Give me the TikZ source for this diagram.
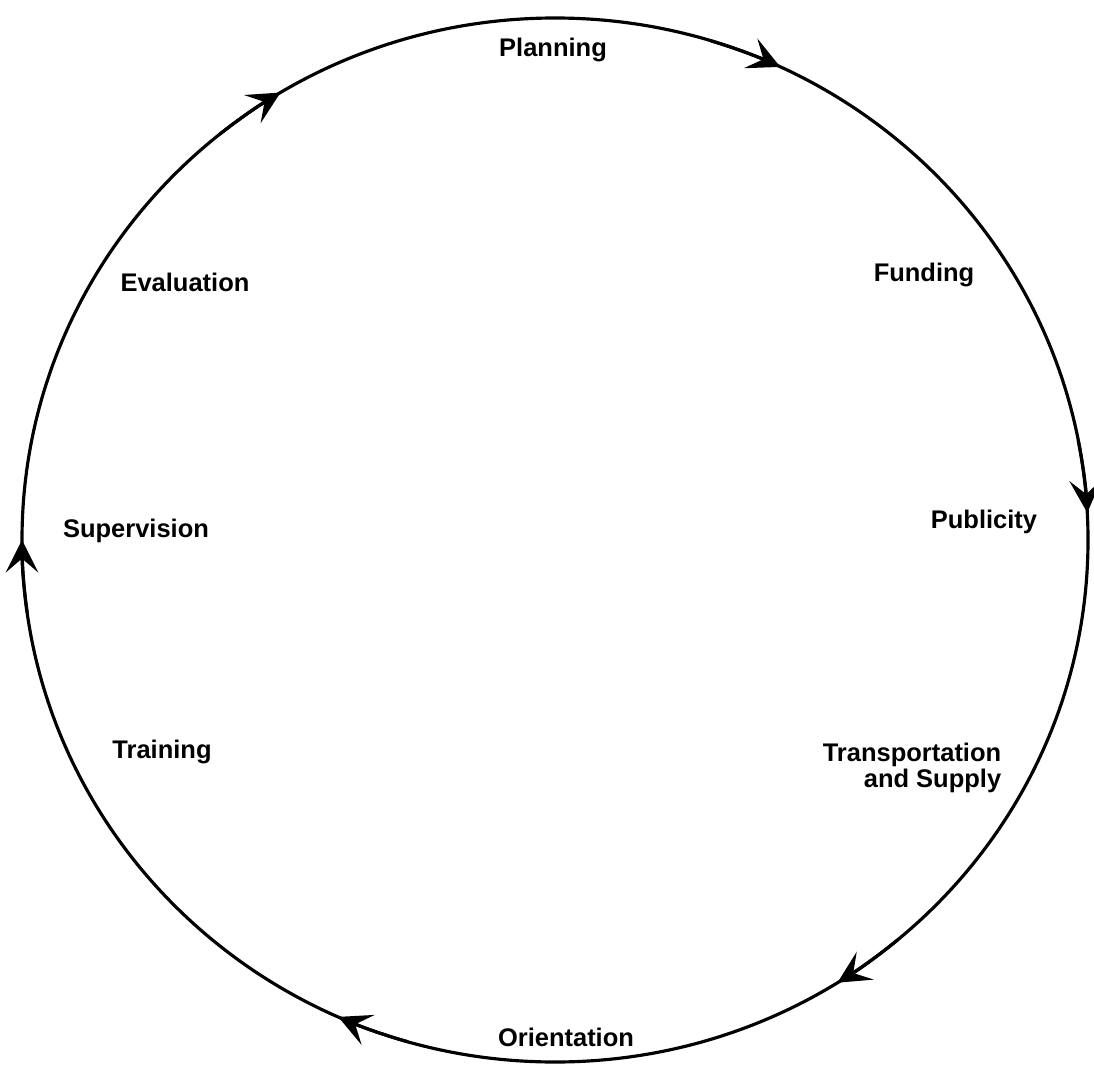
\documentclass[tikz,border=0pt]{standalone}
\usepackage{fontspec}
\setmainfont{Liberation Sans}
\usetikzlibrary{arrows.meta}

\tikzset{
    stage/.style={font=\bfseries\fontsize{14.5}{13.5}\selectfont, inner sep=0pt},
    cycle/.style={line width=1.8pt},
    tip/.style={line width=1.8pt, -{Stealth[length=6.5mm, width=6.5mm, inset=2.8mm]}}
}

\begin{document}
\begin{tikzpicture}[x=0.2mm, y=-0.2mm]
\useasboundingbox (0,0) rectangle (1094,1081);

    % the cycle
    \draw[cycle] (555,540) ellipse [x radius=533, y radius=522];
    \foreach \a in {65,3,-58,-114,180,121}{
        \draw[tip] ({555+533*cos(\a+8)}, {540-522*sin(\a+8)}) arc [start angle=-(\a+8), end angle=-\a, x radius=533, y radius=522];
    }

    % stages
    \node[stage] (planning) at (553,50) {Planning};
    \node[stage] (funding) at (924,275) {Funding};
    \node[stage] (publicity) at (984,522) {Publicity};
    \node[stage, align=right] (transport) at (912,768) {Transportation\\and Supply};
    \node[stage] (orientation) at (566,1037) {Orientation};
    \node[stage] (training) at (162,752) {Training};
    \node[stage] (supervision) at (136,531) {Supervision};
    \node[stage] (evaluation) at (185,282) {Evaluation};
\end{tikzpicture}
\end{document}
